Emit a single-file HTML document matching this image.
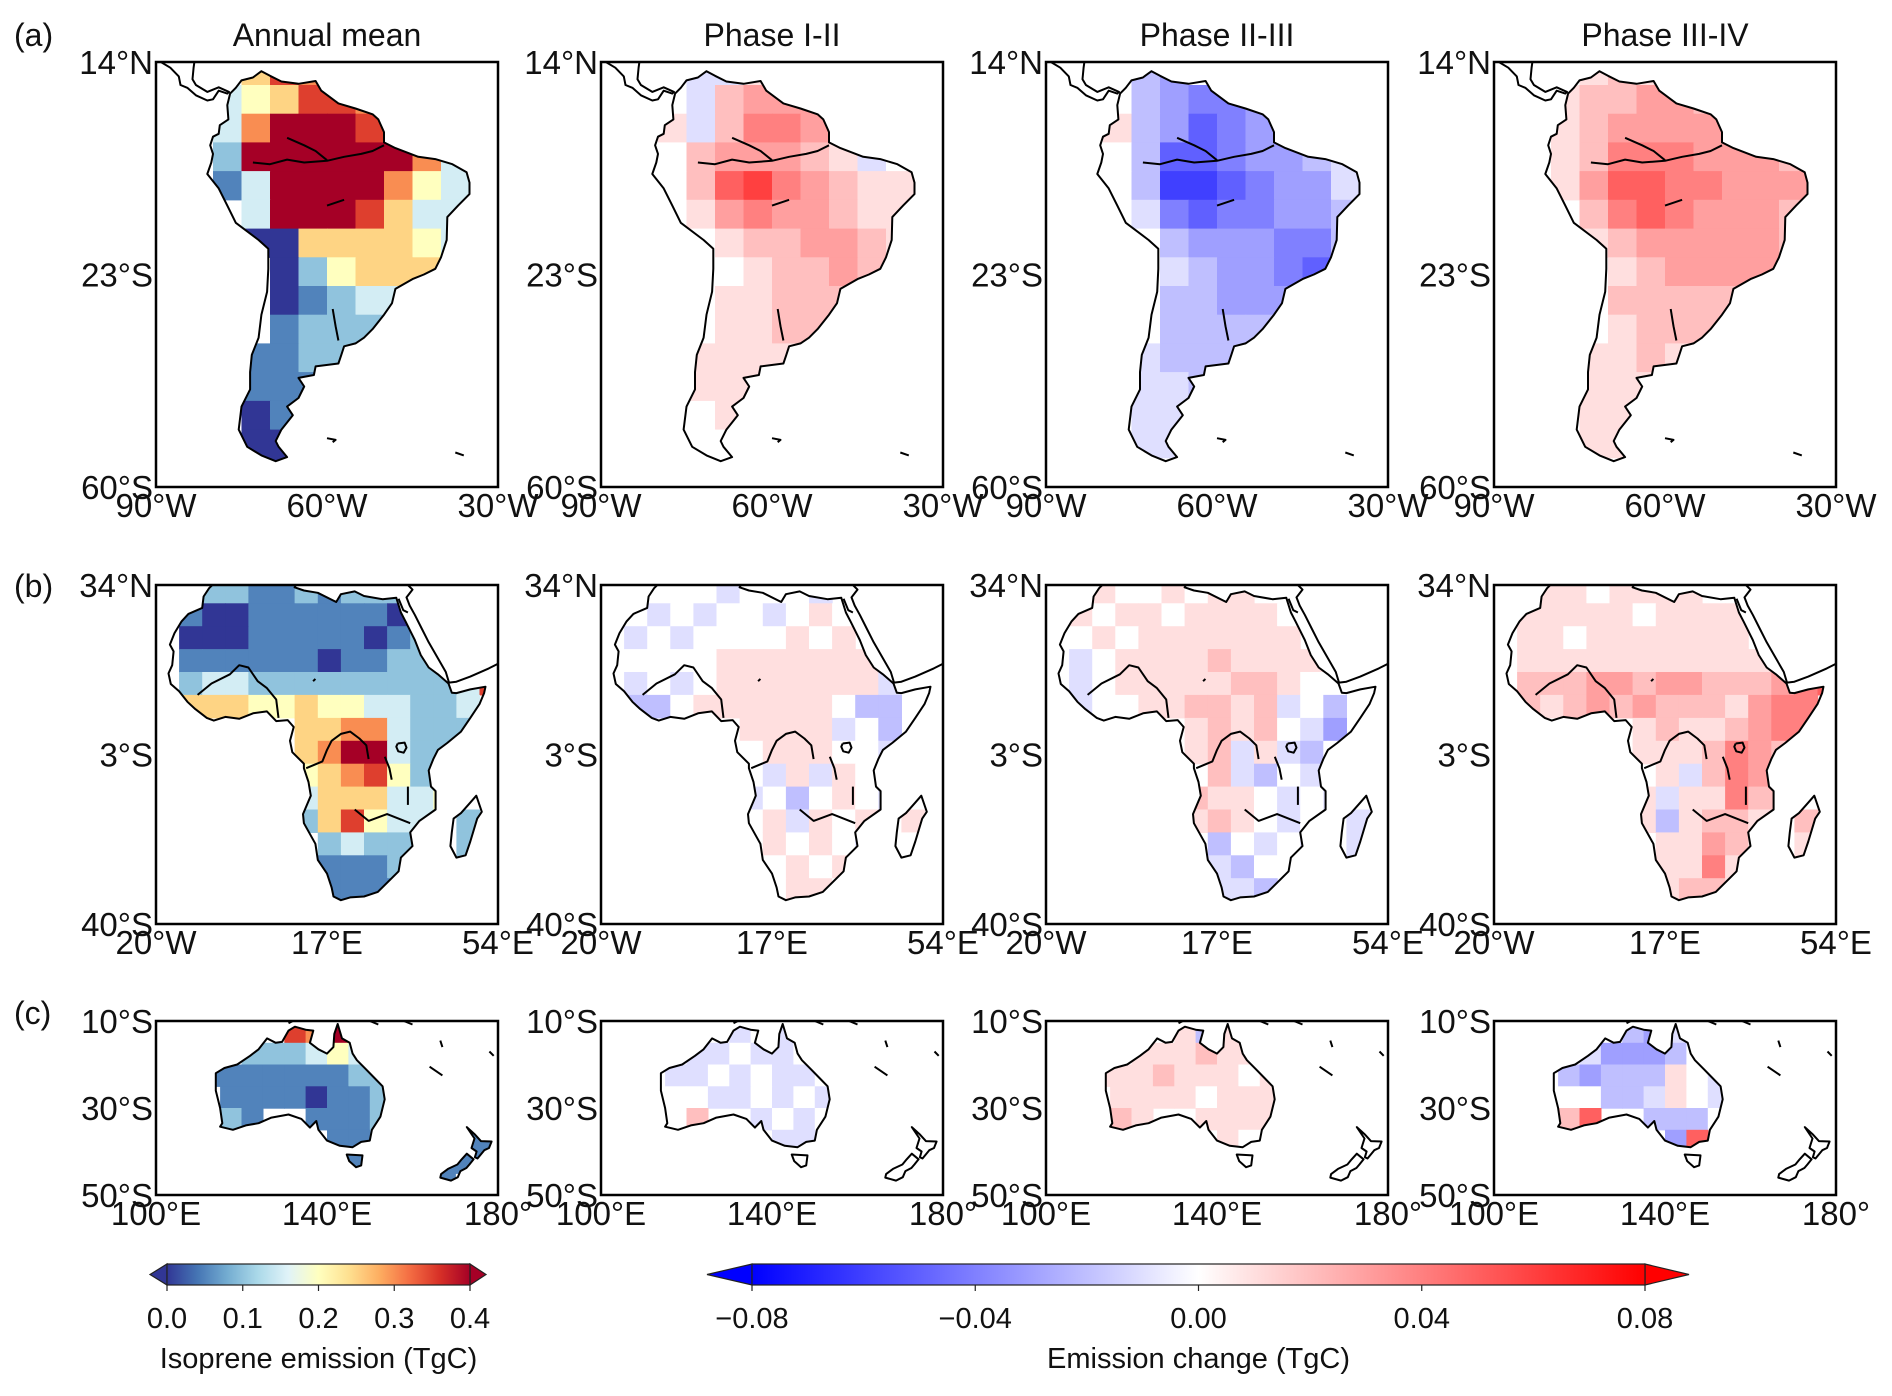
<!DOCTYPE html>
<html><head><meta charset="utf-8"><style>
html,body{margin:0;padding:0;background:#fff;}
svg{display:block;font-family:"Liberation Sans",Arial,sans-serif;}
</style></head><body>
<svg id="fig" width="1892" height="1396" viewBox="0 0 1892 1396" xmlns="http://www.w3.org/2000/svg"></svg>
<script>
// ---------- DATA (5-degree cells; annual: digit*0.05 TgC; change: digit=+0.01*d, letter a..h = -0.01..-0.08) ----------
const SA_ANNUAL=["...576......","..3457766...","..3688878...","..288888863.","..138888643.","...38887533.","...00555543.","....024555..","....01233...","....12222...","...1122.....","...111......","...011......","...000......","...00......."];
const SA_P12=["...aa1......","..0a23331...","..1a24431...","..0233321a0.","..025643211.","...13433211.","...01223321.","....012232..","....11222...","....11221...","...1111.....","...111......","...010......","...000......","...00......."];
const SA_P23=["...bc0......","..0bcddcb...","..1bcedcb...","..0beedccba.","..0bffedcca.","...adeddccb.","...0bcccddb.","....abccde..","....bbccc...","....bbbbb...","...abbb.....","...aab......","...aaa......","...aa0......","...00......."];
const SA_P34=["...121......","..1223322...","..1233333...","..124443332.","..135544333.","...24543332.","...12333332.","....123333..","....22222...","....12221...","...1121.....","...111......","...111......","...110......","...10......."];
const AF_ANNUAL=["..221121222....",".10011111101...",".00011111012...",".111111011222..",".23322222222237",".5554454433223.","...4..55663222.","......5688322..","......4567423..","......3555334..","......257433.2.",".......23222.2.",".......1112..2.",".......1111....","..............."];
const AF_P12=["..000a000a.....",".0a0a00a010....",".a0a0000101....",".000011111110..",".a0a01111111a0.",".bb01111110bb..","...a..1111a0b..","......011100a..",".......a1a10a..","......a0b010a..","......01a101.1.",".......1010a.0.",".......0101..0.",".......0110....","..............."];
const AF_P23=["..1001011......",".1011011110....",".0101111111....",".a01111211110..",".a01111122100..",".a00112212a0b..","...0..12120ac..","......12a1ab0..",".......2ab0a0..","......2110a0a..","......1210a0.a.",".......b0a0a.a.",".......ab00..a.",".......aab.....","..............."];
const AF_P34=["..1101111......",".1111101111....",".1101111111....",".111111111112..",".22233233222345",".2123232221344.","...1..12112344.","......1112432..",".......1a2432..","......1a11422..","......1b1221.2.",".......11321.1.",".......1141..1.",".......1221....","..............."];
const AU_ANNUAL=["......768.......","....222343......","..111111122.....","...11110112.....","...21..1112.....","........11....11",".........1...111",".............1.."];
const AU_P12=["......a0a.......","....aa0aa0......","..0aa0a0aa0.....","...00aa0a0a.....","...02..a0a0.....","........aa....00",".........0...000",".............0.."];
const AU_P23=["......1b1.......","....111211......","..111211101.....","...11110111.....","...21..1111.....","........10....00",".........0...000",".............0.."];
const AU_P34=["......bca.......","....acccb0......","..0bcbbb10a.....","...00bba10a.....","...25..bbb0.....","........c5....00",".........0...000",".............0.."];
const TITLES=["Annual mean","Phase I-II","Phase II-III","Phase III-IV"];
const ROW_LABELS=["(a)","(b)","(c)"];
const CB1_TICKS=["0.0","0.1","0.2","0.3","0.4"];
const CB1_VALUES=[0,0.1,0.2,0.3,0.4];
const CB2_TICKS=["\u22120.08","\u22120.04","0.00","0.04","0.08"];
const CB2_VALUES=[-0.08,-0.04,0,0.04,0.08];

// ---------- geometry ----------
const COL_LEFT=[156,601,1046,1494], PW=342;
const ROWS=[
 {top:62,h:425,lon:[-90,-30],lat:[-60,14],latTop:15,yt:[[14,"14°N"],[-23,"23°S"],[-60,"60°S"]],xt:[[-90,"90°W"],[-60,"60°W"],[-30,"30°W"]],grids:[SA_ANNUAL,SA_P12,SA_P23,SA_P34],key:"sa"},
 {top:585,h:339,lon:[-20,54],lat:[-40,34],latTop:35,yt:[[34,"34°N"],[-3,"3°S"],[-40,"40°S"]],xt:[[-20,"20°W"],[17,"17°E"],[54,"54°E"]],grids:[AF_ANNUAL,AF_P12,AF_P23,AF_P34],key:"af"},
 {top:1021,h:174,lon:[100,180],lat:[-50,-10],latTop:-10,yt:[[-10,"10°S"],[-30,"30°S"],[-50,"50°S"]],xt:[[100,"100°E"],[140,"140°E"],[180,"180°"]],grids:[AU_ANNUAL,AU_P12,AU_P23,AU_P34],key:"au"}
];
const LAND={
 sa:[[[-77,8.5],[-76,9.5],[-75,10.8],[-73,11.3],[-71.5,12.4],[-70,11.6],[-68,10.6],[-65,10.2],[-62,10.7],[-61,9],[-58,6.8],[-55,5.9],[-52,4.9],[-51,4],[-50,1.8],[-50,0],[-48,-1],[-44,-2.5],[-41,-2.9],[-38,-3.8],[-35.5,-5.2],[-35,-7],[-35,-9],[-37,-11],[-38.9,-13],[-39,-17],[-40,-20],[-41,-22],[-43,-23],[-45,-23.8],[-48,-25.5],[-48.6,-28],[-50,-30],[-52,-32.5],[-53.5,-34],[-55,-35],[-57,-35.5],[-57.5,-37],[-58,-38.5],[-62,-39],[-62.3,-40.5],[-65,-41],[-64,-42.5],[-65,-44.5],[-67,-46],[-66,-47.5],[-68,-50],[-69,-52],[-68.5,-53],[-67,-54.8],[-69,-55.5],[-71.5,-54.5],[-74,-53],[-75.5,-50],[-75,-46],[-73.5,-43],[-73.5,-40],[-73.2,-37],[-72,-34],[-71.5,-30],[-70.5,-26],[-70.3,-22],[-70.3,-18.5],[-72,-17],[-76,-14],[-77.5,-11],[-79,-8],[-81,-5.5],[-80.3,-3.5],[-80,-2],[-80.5,-0.5],[-80,1],[-79,1.5],[-78.8,3],[-77.3,4],[-77.5,6.5]]],
 af:[[[-6,35.8],[-2,35.1],[3,36.8],[10,37.2],[11,35],[10,33.5],[12,32.8],[15,32.3],[19,30.3],[20,32],[23,32.6],[25,31.6],[29,30.9],[32,31.2],[33,28],[34,26],[36,22],[37.3,18.7],[39,16],[41,14.5],[43.3,12.5],[44,10.5],[45,10.4],[48,11.2],[51.3,11.8],[51,10.4],[50,8],[48,5],[46,2],[43,-0.5],[41,-2],[40,-4],[39,-6.5],[39.5,-10],[40.5,-11],[40.5,-15],[37,-17.5],[35,-20],[35.5,-23],[33,-25.5],[32.5,-28.5],[31,-30],[28,-33],[25,-34],[22,-34.2],[20,-34.8],[18.4,-34],[18,-32],[17,-29],[15,-26],[14.5,-22.5],[12,-18],[11.8,-16],[13.5,-12],[13,-9],[12,-6],[12,-5],[9.5,-2.5],[9,0],[9.8,3],[8.5,4.5],[6,4.3],[4,6.4],[1,6],[-2,4.8],[-5,5.2],[-7.5,4.4],[-9,5],[-11.5,6.9],[-13.2,8.5],[-15,10.8],[-16.8,12.4],[-17.3,14.7],[-16.5,16.5],[-16.2,19.5],[-17,21],[-16,23.5],[-14.5,26],[-13,27.7],[-10,29],[-9.7,31.5],[-8.5,33.3]],
   [[49.3,-12],[50.5,-15.5],[49.5,-17],[48,-22],[47,-25],[45,-25.5],[43.7,-23],[44,-20],[44.4,-17],[46,-15.8],[48,-13.5]]],
 au:[[[114,-22],[114,-26],[115,-30],[115.5,-33.5],[115,-34.3],[118,-35],[121,-34],[124,-33.5],[127,-32.2],[131,-31.5],[134,-32.5],[136,-34.5],[137.5,-33],[138,-35],[140,-37.5],[143,-38.7],[146,-39],[148,-37.8],[150,-37.5],[150.5,-35],[152.5,-32],[153.5,-28],[153,-25],[151,-23],[149,-21],[147,-19],[146,-17.5],[145.3,-15],[143.5,-14],[142.5,-10.7],[141.7,-13],[141.5,-16],[140,-17.5],[138,-16.5],[136,-15],[136.8,-12.2],[135,-12],[132.5,-11.3],[131,-12.2],[129.5,-14.8],[128,-15],[126,-14],[124,-16.5],[122,-18],[119,-20],[116,-20.8]],
   [[144.6,-40.7],[148.3,-40.9],[148,-43.2],[146.8,-43.6],[145.2,-42.2]],
   [[172.7,-34.4],[174.5,-36],[176,-37.6],[178.5,-37.7],[177.9,-39.2],[176.8,-39.7],[175.2,-41.6],[174.6,-41.3],[175,-40],[173.8,-39.2],[174.5,-37]],
   [[172.7,-40.5],[174.3,-41.8],[173.3,-43],[172.6,-43.8],[171.2,-44.5],[170.6,-45.9],[169,-46.7],[166.5,-46],[166.7,-45.2],[168.3,-44],[170.5,-43],[171.5,-41.8]]]
};
const LINES={
 sa:[[[-90,14.5],[-87.5,13],[-86,11.5],[-85.7,10],[-84.5,9.5],[-83,8.2],[-81,7.3],[-80,7.5],[-79,9],[-77.5,8.5],[-77.2,8.8],[-79,9.6],[-81,8.8],[-83,10],[-83.6,11],[-83.4,13],[-83.2,14.5]],
   [[-73,-3.5],[-70,-3.8],[-67,-3],[-64,-3.5],[-60,-3.2],[-57,-2.5],[-54,-2],[-52,-1.5],[-50,-0.5]],[[-67,0.8],[-64,-0.5],[-62,-1.5],[-60,-3.1]],
   [[-60,-51.5],[-58.5,-51.8],[-59,-52.2]],[[-37.5,-54],[-36,-54.5]],[[-58,-34.5],[-58.5,-32],[-59,-29]],[[-60,-11],[-57,-10]]],
 af:[[[34.5,34],[35.5,33],[34.2,31.3],[34.9,29.5],[36,27.5],[37.5,24.5],[39,21.5],[41,18],[42.7,15],[43.4,12.7],[45,12.9],[48,14],[52,15.8],[54,16.8]],[[32.5,31],[33.5,28.5],[34.5,28]],
   [[12.5,-6],[16,-4.5],[17,-2],[18,0],[20,1.5],[22,2],[24,0.5],[25.5,-1],[26,-4]],[[-11,10],[-8,12.5],[-4,14.5],[-2,16.5],[0,16],[2,13],[4,11.5],[6,9],[6.5,5]],
   [[29.5,-3.5],[30.5,-6],[31,-8.5]],[[34.5,-10],[34.5,-14]],[[23,-15],[26,-17.5],[30,-16],[35,-18]],[[32.3,-0.6],[33.8,-0.4],[34.2,-1.5],[33.6,-2.6],[32.4,-2.3],[32,-1.3],[32.3,-0.6]],[[14,13],[14.5,13.5]]],
 au:[[[131,-10.5],[133,-9.5]],[[150,-10],[152,-10.8]],[[158,-10],[160,-10.8]],[[164,-20.5],[167,-22.5]],[[166.5,-14.5],[167,-16]],[[178,-17],[179,-18]]]
};

// ---------- helpers ----------
const NS="http://www.w3.org/2000/svg";
const svg=document.getElementById('fig');
function mk(tag,attrs,parent){const e=document.createElementNS(NS,tag);for(const k in attrs)e.setAttribute(k,attrs[k]);(parent||svg).appendChild(e);return e;}
function lerpStops(stops,t){t=Math.max(0,Math.min(1,t));const n=stops.length-1;const i=Math.min(n-1,Math.floor(t*n));const f=t*n-i;const a=stops[i],b=stops[i+1];const c=[0,1,2].map(k=>Math.round(a[k]+(b[k]-a[k])*f));return `rgb(${c[0]},${c[1]},${c[2]})`;}
const RDYLBU=[[49,54,149],[69,117,180],[116,173,209],[171,217,233],[224,243,248],[255,255,191],[254,224,144],[253,174,97],[244,109,67],[215,48,39],[165,0,38]];
const BWR=[[0,0,255],[255,255,255],[255,0,0]];
function annualColor(v){return lerpStops(RDYLBU,v/0.4);}
function changeColor(v){return lerpStops(BWR,(v+0.08)/0.16);}
function decode(ch,annual){if(ch==='.')return null;if(annual)return parseInt(ch)*0.05;if(ch>='0'&&ch<='9')return parseInt(ch)*0.01;return -(ch.charCodeAt(0)-96)*0.01;}
function txt(s,x,y,size,anchor,name){const t=mk('text',{x:x,y:y,'font-size':size,'text-anchor':anchor||'start',fill:'#111'});t.textContent=s;return t;}

// ---------- panels ----------
let clipId=0;
ROWS.forEach((R,ri)=>{
  COL_LEFT.forEach((left,ci)=>{
    const X=lon=>left+(lon-R.lon[0])/(R.lon[1]-R.lon[0])*PW;
    const Y=lat=>R.top+(R.lat[1]-lat)/(R.lat[1]-R.lat[0])*R.h;
    const g=mk('g',{});
    
    
    const fid='fr'+(clipId++), lid='ld'+(clipId++);
    const defs=mk('defs',{},g);
    const cf=mk('clipPath',{id:fid},defs);mk('rect',{x:left,y:R.top,width:PW,height:R.h},cf);
    const cl=mk('clipPath',{id:lid},defs);
    const pts=poly=>poly.map(p=>X(p[0]).toFixed(1)+','+Y(p[1]).toFixed(1)).join(' ');
    LAND[R.key].forEach(poly=>mk('polygon',{points:pts(poly)},cl));
    const inner=mk('g',{'clip-path':`url(#${fid})`},g);
    const cells=mk('g',{'clip-path':`url(#${lid})`},inner);
    
    
    const grid=R.grids[ci], annual=ci===0;
    grid.forEach((row,r)=>{
      for(let c=0;c<row.length;c++){
        const v=decode(row[c],annual); if(v===null)continue;
        const lon0=R.lon[0]+c*5, lat0=R.latTop-r*5;
        const x0=X(lon0),x1=X(lon0+5),y0=Y(lat0),y1=Y(lat0-5);
        const rc=mk('rect',{x:x0.toFixed(1),y:y0.toFixed(1),width:(x1-x0+0.6).toFixed(1),height:(y1-y0+0.6).toFixed(1),fill:annual?annualColor(v):changeColor(v)},cells);
        
        
      }
    });
    LAND[R.key].forEach(poly=>{const p=mk('polygon',{points:pts(poly),fill:'none',stroke:'#000','stroke-width':2,'stroke-linejoin':'round'},inner);});
    LINES[R.key].forEach(line=>{const p=mk('polyline',{points:pts(line),fill:'none',stroke:'#000','stroke-width':2,'stroke-linejoin':'round'},inner);});
    const fr=mk('rect',{x:left,y:R.top,width:PW,height:R.h,fill:'none',stroke:'#000','stroke-width':2.5},g);
    
    R.yt.forEach(([lat,s])=>txt(s,left-3,Y(lat)+12,33,'end','y-tick-label'));
    R.xt.forEach(([lon,s])=>txt(s,X(lon),R.top+R.h+30,33,'middle','x-tick-label'));
    if(ri===0) txt(TITLES[ci],left+PW/2,46,32,'middle','panel-title');
  });
});
txt(ROW_LABELS[0],14,46,32,'start','row-label-a');
txt(ROW_LABELS[1],14,597,32,'start','row-label-b');
txt(ROW_LABELS[2],14,1024,32,'start','row-label-c');

// ---------- colorbars ----------
function colorbar(x0,x1,tipL,tipR,stops,vals,labels,vmin,vmax,title,name){
  const y0=1264,y1=1285,ym=(y0+y1)/2;
  const g=mk('g',{});
  
  
  const defs=mk('defs',{},g);
  const lg=mk('linearGradient',{id:name+'-grad',x1:'0',x2:'1',y1:'0',y2:'0'},defs);
  for(let i=0;i<=20;i++){mk('stop',{offset:(i/20),'stop-color':lerpStops(stops,i/20)},lg);}
  mk('polygon',{points:`${tipL},${ym} ${x0},${y0} ${x0},${y1}`,fill:lerpStops(stops,0),stroke:'#222','stroke-width':1.2},g);
  mk('polygon',{points:`${tipR},${ym} ${x1},${y0} ${x1},${y1}`,fill:lerpStops(stops,1),stroke:'#222','stroke-width':1.2},g);
  mk('rect',{x:x0,y:y0,width:x1-x0,height:y1-y0,fill:`url(#${name}-grad)`,stroke:'#222','stroke-width':1.2},g);
  vals.forEach((v,i)=>{const x=x0+(v-vmin)/(vmax-vmin)*(x1-x0);mk('line',{x1:x,x2:x,y1:y1,y2:y1+6,stroke:'#222','stroke-width':1.2},g);txt(labels[i],x,1328,29,'middle','colorbar-tick-label');});
  txt(title,(x0+x1)/2,1368,29,'middle','colorbar-title');
}
colorbar(167,470,150,486,RDYLBU,CB1_VALUES,CB1_TICKS,0,0.4,'Isoprene emission (TgC)','colorbar-annual');
colorbar(752,1645,707,1689,BWR,CB2_VALUES,CB2_TICKS,-0.08,0.08,'Emission change (TgC)','colorbar-change');
</script>
</body></html>
